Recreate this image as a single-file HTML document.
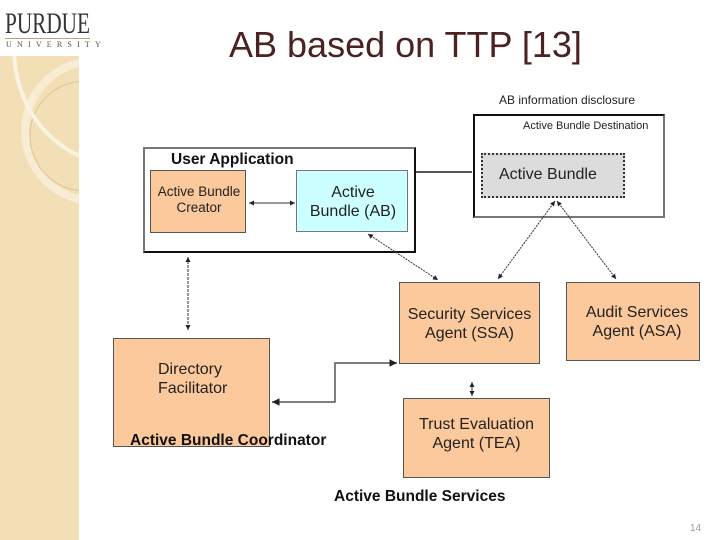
<!DOCTYPE html>
<html><head><meta charset="utf-8"><style>
body{margin:0;width:720px;height:540px;position:relative;background:#fff;overflow:hidden;font-family:"Liberation Sans",sans-serif}
.a{position:absolute}
.box{position:absolute;box-sizing:border-box}
.or{background:#fbc99b;border:1px solid #555}
.t{position:absolute;white-space:nowrap;color:#222}
</style></head><body>
<div class="a" style="left:0;top:56px;width:79px;height:484px;background:#f3dfb6"></div>
<svg class="a" style="left:0;top:56px" width="79" height="484"><circle cx="95" cy="75" r="70" fill="none" stroke="#f8ecd2" stroke-width="8"/><circle cx="85" cy="80" r="55" fill="none" stroke="#dcc597" stroke-width="1"/><path d="M14 0 Q20 70 79 100" fill="none" stroke="#faf2e0" stroke-width="4"/></svg>
<div class="a" style="left:0;top:0;width:95px;height:55px;background:#fff"></div>
<svg class="a" style="left:0;top:0" width="95" height="40"><text x="5" y="33" font-family="Liberation Serif, serif" font-size="30" fill="#333" textLength="85" lengthAdjust="spacingAndGlyphs">PURDUE</text></svg>
<div class="a" style="left:5px;top:38px;width:85px;height:1px;background:#b9a282"></div>
<div class="t" style="left:6px;top:40px;font-family:'Liberation Serif',serif;font-size:8px;letter-spacing:5.2px;color:#555">UNIVERSITY</div>
<div class="t" style="left:229px;top:24px;font-size:36px;color:#4a2222">AB based on TTP [13]</div>
<div class="t" style="left:499px;top:93px;font-size:12px">AB information disclosure</div>
<div class="box" style="left:473px;top:114px;width:192px;height:104px;border:2px solid #111;border-bottom-color:#777;border-right-color:#777"></div>
<div class="t" style="left:523px;top:120px;font-size:11px">Active Bundle Destination</div>
<div class="box" style="left:481px;top:153px;width:144px;height:45px;background:#dcdcdc;border:2px dotted #333"></div>
<div class="t" style="left:499px;top:166px;font-size:16px">Active Bundle</div>
<div class="box" style="left:143px;top:147px;width:273px;height:106px;border:2px solid #111;border-left-color:#777;border-top-color:#777"></div>
<div class="t" style="left:171px;top:151px;font-size:15.5px;font-weight:bold;color:#111">User Application</div>
<div class="box or" style="left:150px;top:170px;width:96px;height:63px"></div>
<div class="t" style="left:150px;top:184px;width:98px;text-align:center;font-size:13.5px;line-height:16px">Active Bundle<br>Creator</div>
<div class="box" style="left:296px;top:170px;width:112px;height:62px;background:#ccffff;border:1px solid #777"></div>
<div class="t" style="left:296px;top:183px;width:114px;text-align:center;font-size:16px;line-height:19px">Active<br>Bundle (AB)</div>
<div class="box or" style="left:399px;top:282px;width:141px;height:82px"></div>
<div class="t" style="left:399px;top:305px;width:141px;text-align:center;font-size:16px;line-height:19px">Security Services<br>Agent (SSA)</div>
<div class="box or" style="left:566px;top:282px;width:134px;height:79px"></div>
<div class="t" style="left:566px;top:303px;width:142px;text-align:center;font-size:16px;line-height:19px">Audit Services<br>Agent (ASA)</div>
<div class="box or" style="left:113px;top:338px;width:157px;height:109px"></div>
<div class="t" style="left:158px;top:360px;font-size:16px;line-height:19px">Directory<br>Facilitator</div>
<div class="box or" style="left:403px;top:398px;width:147px;height:80px"></div>
<div class="t" style="left:403px;top:415px;width:147px;text-align:center;font-size:16px;line-height:19px">Trust Evaluation<br>Agent (TEA)</div>
<div class="t" style="left:130px;top:432px;font-size:15.5px;font-weight:bold;color:#111">Active Bundle Coordinator</div>
<div class="t" style="left:334px;top:488px;font-size:15.5px;font-weight:bold;color:#111">Active Bundle Services</div>
<div class="t" style="left:690px;top:523px;font-size:10px;color:#999">14</div>
<svg class="a" style="left:0;top:0" width="720" height="540">
<defs><marker id="m" markerWidth="6" markerHeight="6" refX="5" refY="3" orient="auto-start-reverse"><path d="M0,0.5 L5,3 L0,5.5z" fill="#222"/></marker></defs>
<g stroke="#333" fill="none" stroke-width="1">
<line x1="416" y1="172" x2="472" y2="172" stroke-width="2" stroke="#555"/>
<line x1="249" y1="203" x2="295" y2="203" marker-start="url(#m)" marker-end="url(#m)"/>
<line x1="188" y1="257" x2="188" y2="330" stroke-dasharray="3,1" marker-start="url(#m)" marker-end="url(#m)"/>
<line x1="368" y1="234" x2="438" y2="280" stroke-dasharray="2,1" marker-start="url(#m)" marker-end="url(#m)"/>
<line x1="555" y1="201" x2="498" y2="279" stroke-dasharray="2,1" marker-start="url(#m)" marker-end="url(#m)"/>
<line x1="557" y1="201" x2="616" y2="279" stroke-dasharray="2,1" marker-start="url(#m)" marker-end="url(#m)"/>
<polyline points="272,402 335,402 335,363 397,363" stroke="#555" stroke-width="1.5" marker-start="url(#m)" marker-end="url(#m)"/>
<line x1="472" y1="382" x2="472" y2="396" marker-start="url(#m)" marker-end="url(#m)"/>
</g></svg>
</body></html>
